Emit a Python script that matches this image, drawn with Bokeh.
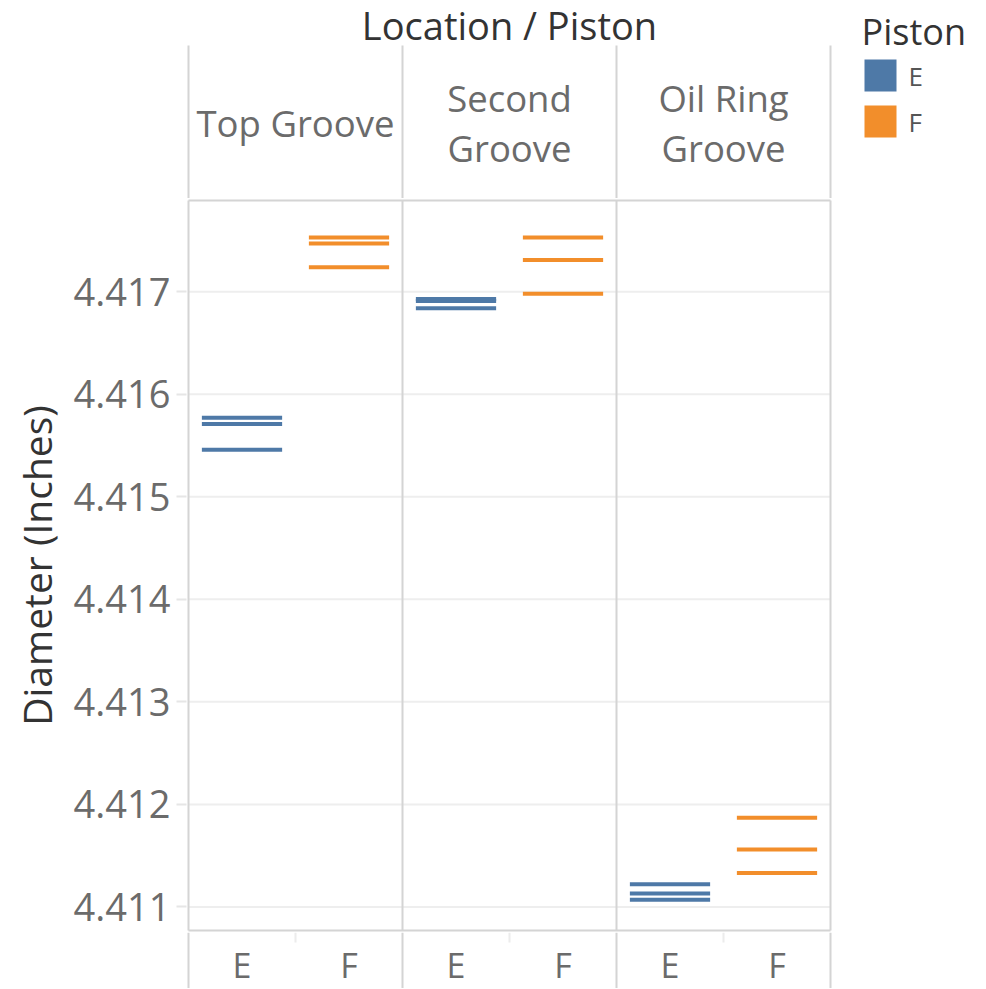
from bokeh.plotting import figure
from bokeh.models import Range1d, FixedTicker, ColumnDataSource, PrintfTickFormatter
from bokeh.layouts import column
from bokeh.core.properties import value
from bokeh.embed import file_html
from bokeh.resources import INLINE

# ---------------- data ----------------
locations = ["Top Groove", "Second Groove", "Oil Ring Groove"]
location_header_text = ["Top Groove", "Second\nGroove", "Oil Ring\nGroove"]
pistons = ["E", "F"]
piston_colors = ["#4e79a7", "#f28e2b"]

top_groove_E = [4.41577, 4.41571, 4.41546]
top_groove_F = [4.41753, 4.41747, 4.41724]
second_groove_E = [4.41693, 4.41691, 4.41684]
second_groove_F = [4.41753, 4.41731, 4.41698]
oil_ring_groove_E = [4.41122, 4.41113, 4.41107]
oil_ring_groove_F = [4.41187, 4.41156, 4.41133]

y_ticks = [4.411, 4.412, 4.413, 4.414, 4.415, 4.416, 4.417]
y_lo, y_hi = 4.41077, 4.41789   # plot-area bounds

column_title = "Location / Piston"
y_title = "Diameter (Inches)"
legend_title = "Piston"

series = {
    ("Top Groove", "E"): top_groove_E,
    ("Top Groove", "F"): top_groove_F,
    ("Second Groove", "E"): second_groove_E,
    ("Second Groove", "F"): second_groove_F,
    ("Oil Ring Groove", "E"): oil_ring_groove_E,
    ("Oil Ring Groove", "F"): oil_ring_groove_F,
}

# ---------------- layout constants (pixels) ----------------
FONT = "Open Sans"
W = 984
AREA_LEFT = 188          # left edge of plot area on page
AREA_W = 642             # width of plot area
AREA_H = 730             # height of plot area
PAD = 2                  # frame padding around plot area so border lines are not clipped
LEFT = AREA_LEFT - PAD
HEADER_H = 200 - PAD
MAIN_H = AREA_H + 2 * PAD
FOOTER_H = 56
BORDER = "#d4d4d4"
GRID = "#eeeeee"
LABEL_GRAY = "#6b6b6b"
DARK = "#333333"

n_loc = len(locations)
n_pis = len(pistons)
n_cols = n_loc * n_pis
unit = AREA_W / n_cols
boundaries = [i * n_pis for i in range(n_loc + 1)]

x_start = -PAD / unit
x_end = x_start + (W - LEFT) / unit


def px_x(page_x):
    return (page_x - AREA_LEFT) / unit


dy = (y_hi - y_lo) / AREA_H
y_start, y_end = y_lo - PAD * dy, y_hi + PAD * dy

xs, ys, cs = [], [], []
for i, loc in enumerate(locations):
    for j, pis in enumerate(pistons):
        for v in series[(loc, pis)]:
            xs.append(i * n_pis + j + 0.5)
            ys.append(v)
            cs.append(piston_colors[j])
src = ColumnDataSource(dict(x=xs, y=ys, color=cs))


def bare(height, y_range):
    f = figure(width=W, height=height, x_range=Range1d(x_start, x_end), y_range=y_range,
               output_backend="svg", toolbar_location=None,
               x_axis_location=None, y_axis_location=None,
               min_border_left=LEFT, min_border_right=0, min_border_top=0, min_border_bottom=0)
    f.grid.visible = False
    f.outline_line_color = None
    return f


# ---------------- header ----------------
header = bare(HEADER_H, Range1d(0, HEADER_H))
line_top = HEADER_H - 45
header.segment(x0=boundaries, y0=[0] * len(boundaries), x1=boundaries,
               y1=[line_top] * len(boundaries), line_color=BORDER, line_width=2)
header.text(x=[n_cols / 2], y=[HEADER_H - 24], text=[column_title], text_align="center",
            text_baseline="middle", text_font=value(FONT), text_font_size="38px", text_color=DARK)
header.text(x=[i * n_pis + n_pis / 2 for i in range(n_loc)], y=[HEADER_H - 122] * n_loc,
            text=location_header_text, text_align="center", text_baseline="middle",
            text_line_height=1.0,
            text_font=value(FONT), text_font_size="36.5px", text_color=LABEL_GRAY)

# legend (drawn in header's right region)
leg_y = [HEADER_H - 75, HEADER_H - 121]
header.text(x=[px_x(861)], y=[HEADER_H - 31], text=[legend_title], text_align="left",
            text_baseline="middle", text_font=value(FONT), text_font_size="36px", text_color=DARK)
header.rect(x=[px_x(880)] * n_pis, y=leg_y, width=32, height=32,
            width_units="screen", height_units="screen",
            fill_color=piston_colors, line_color=None)
header.text(x=[px_x(908)] * n_pis, y=leg_y, text=pistons, text_align="left",
            text_baseline="middle", text_font=value(FONT), text_font_size="26px",
            text_color="#555555")

# ---------------- main plot ----------------
main = figure(width=W, height=MAIN_H, x_range=Range1d(x_start, x_end), y_range=Range1d(y_start, y_end),
              output_backend="svg", toolbar_location=None, x_axis_location=None,
              min_border_left=LEFT, min_border_right=0, min_border_top=0, min_border_bottom=0)
main.outline_line_color = None
main.grid.visible = False

# grid lines restricted to the plot area
main.segment(x0=[0] * len(y_ticks), y0=y_ticks, x1=[n_cols] * len(y_ticks), y1=y_ticks,
             line_color=GRID, line_width=2)
# plot-area border and panel dividers
main.segment(x0=[0, 0], y0=[y_lo, y_hi], x1=[n_cols, n_cols], y1=[y_lo, y_hi],
             line_color=BORDER, line_width=2)
main.segment(x0=boundaries, y0=[y_lo] * len(boundaries), x1=boundaries,
             y1=[y_hi] * len(boundaries), line_color=BORDER, line_width=2)

ax = main.yaxis[0]
ax.ticker = FixedTicker(ticks=y_ticks)
ax.formatter = PrintfTickFormatter(format="%.3f")
ax.axis_label = y_title
ax.axis_label_text_font = FONT
ax.axis_label_text_font_size = "39px"
ax.axis_label_text_font_style = "normal"
ax.axis_label_text_color = DARK
ax.axis_label_standoff = 8
ax.axis_line_color = None
ax.major_tick_line_color = "#e6e6e6"
ax.major_tick_line_width = 2
ax.major_tick_out = 10
ax.major_tick_in = 0
ax.minor_tick_line_color = None
ax.major_label_text_font = FONT
ax.major_label_text_font_size = "38px"
ax.major_label_text_color = LABEL_GRAY
ax.major_label_standoff = 6

main.rect(x="x", y="y", width=0.75, height=4, height_units="screen",
          fill_color="color", line_color=None, source=src)

# ---------------- footer (column axis) ----------------
footer = bare(FOOTER_H, Range1d(0, FOOTER_H))
footer.segment(x0=boundaries, y0=[0] * len(boundaries), x1=boundaries,
               y1=[FOOTER_H] * len(boundaries), line_color=BORDER, line_width=2)
mids = [i * n_pis + n_pis / 2 for i in range(n_loc)]
footer.segment(x0=mids, y0=[FOOTER_H - 10] * n_loc, x1=mids, y1=[FOOTER_H] * n_loc,
               line_color="#ececec", line_width=2)
footer.text(x=[i * n_pis + j + 0.5 for i in range(n_loc) for j in range(n_pis)],
            y=[FOOTER_H - 32.5] * n_cols, text=[p for _ in range(n_loc) for p in pistons],
            text_align="center", text_baseline="middle",
            text_font=value(FONT), text_font_size="34px", text_color=LABEL_GRAY)

layout = column(header, main, footer, spacing=0)
open("out.html", "w").write(file_html(layout, INLINE))
